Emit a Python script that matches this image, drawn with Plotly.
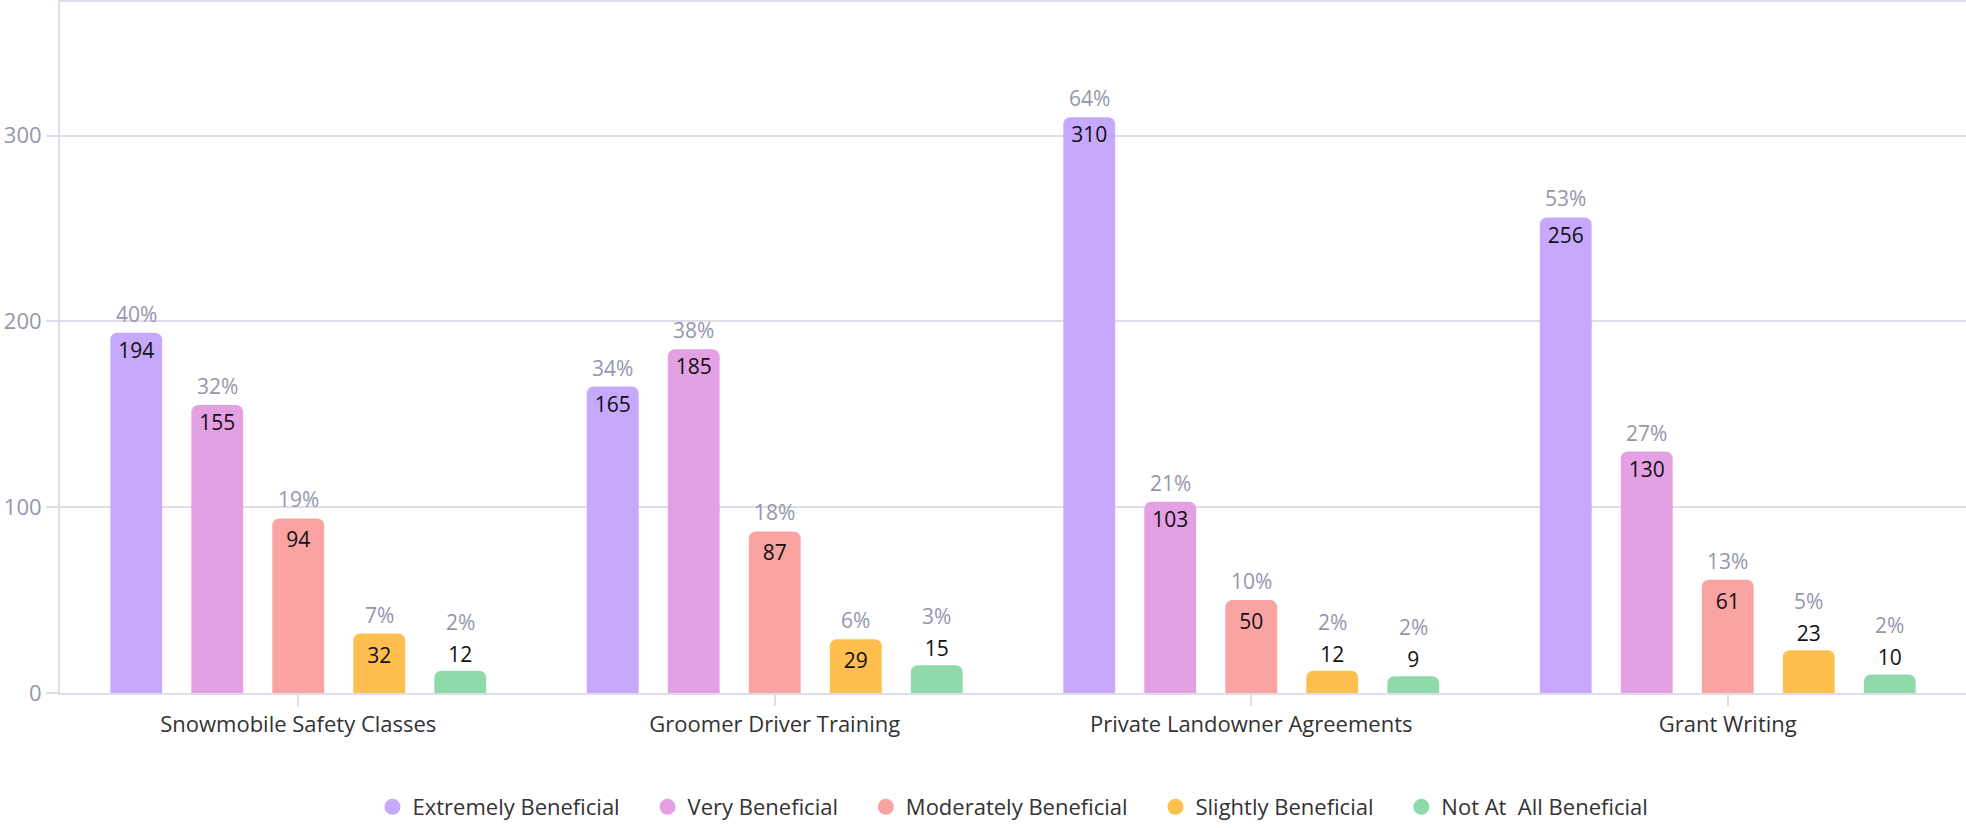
import plotly.graph_objects as go

categories = ['Snowmobile Safety Classes', 'Groomer Driver Training', 'Private Landowner Agreements', 'Grant Writing']
series = ['Extremely Beneficial', 'Very Beneficial', 'Moderately Beneficial', 'Slightly Beneficial', 'Not At  All Beneficial']
colors = ['#c6a8fc', '#e3a0e3', '#f9a3a2', '#ffbf4f', '#90d9ab']

extremely = [194, 165, 310, 256]
very = [155, 185, 103, 130]
moderately = [94, 87, 50, 61]
slightly = [32, 29, 12, 23]
not_at_all = [12, 15, 9, 10]

extremely_pct = ['40%', '34%', '64%', '53%']
very_pct = ['32%', '38%', '21%', '27%']
moderately_pct = ['19%', '18%', '10%', '13%']
slightly_pct = ['7%', '6%', '2%', '5%']
not_at_all_pct = ['2%', '3%', '2%', '2%']

values = [extremely, very, moderately, slightly, not_at_all]
pcts = [extremely_pct, very_pct, moderately_pct, slightly_pct, not_at_all_pct]

FONT = 'Open Sans'
GRID = '#dedde9'
GREY = '#9696ad'
bargap = 0.15
inside_min = 25  # bars shorter than this get the count above them

fig = go.Figure()
for k, (name, col, vals) in enumerate(zip(series, colors, values)):
    pos = ['inside' if v >= inside_min else 'outside' for v in vals]
    fig.add_trace(go.Bar(
        name=name, x=categories, y=vals, text=[str(v) for v in vals],
        textposition=pos, insidetextanchor='end', textangle=0,
        constraintext='none', cliponaxis=False, showlegend=False,
        textfont=dict(family=FONT, size=21, color='#111111'),
        marker=dict(color=col, line=dict(width=0), cornerradius=7),
    ))
    # round legend markers; trailing spaces widen the gap between entries
    pad = '\u00a0' * 4 if k < len(series) - 1 else ''
    fig.add_trace(go.Scatter(
        name=name + pad, x=[None], y=[None], mode='markers',
        marker=dict(color=col, size=22, symbol='circle'),
    ))

# percentage labels above each bar (or above the outside count)
slot = (1 - bargap) / len(series)
for i, (vals, pc) in enumerate(zip(values, pcts)):
    for j, (v, p) in enumerate(zip(vals, pc)):
        fig.add_annotation(
            x=j + (i - (len(series) - 1) / 2) * slot, y=v, text=p,
            showarrow=False, yanchor='middle',
            yshift=19 if v >= inside_min else 49,
            font=dict(family=FONT, size=21, color=GREY),
        )

fig.update_layout(
    barmode='group', bargap=bargap, bargroupgap=0.36,
    width=1966, height=828,
    margin=dict(l=60, r=0, t=2, b=129),
    plot_bgcolor='white', paper_bgcolor='white',
    font=dict(family=FONT, color='#333333'),
    showlegend=True,
    legend=dict(orientation='h', x=0.5, xanchor='center', y=-0.165, yanchor='middle',
                font=dict(family=FONT, size=22, color='#333333'),
                itemsizing='trace', itemwidth=30, traceorder='normal'),
)
fig.update_xaxes(
    automargin=False,
    showline=True, linecolor=GRID, linewidth=2, mirror=True,
    ticks='outside', ticklen=11, tickcolor=GRID, tickwidth=2,
    tickfont=dict(family=FONT, size=22, color='#333333'),
)
fig.update_yaxes(
    automargin=False,
    range=[0, 372], tickvals=[0, 100, 200, 300],
    showgrid=True, gridcolor=GRID, gridwidth=2,
    showline=True, linecolor=GRID, linewidth=2, mirror=True,
    ticks='outside', ticklen=12, tickcolor=GRID, tickwidth=2,
    tickfont=dict(family=FONT, size=22, color=GREY),
    zeroline=False,
)

# drop the browser's default body margin so the figure sits at the window origin
fig.write_html('out.html', config={'displayModeBar': False},
               post_script="document.body.style.margin='0';")
